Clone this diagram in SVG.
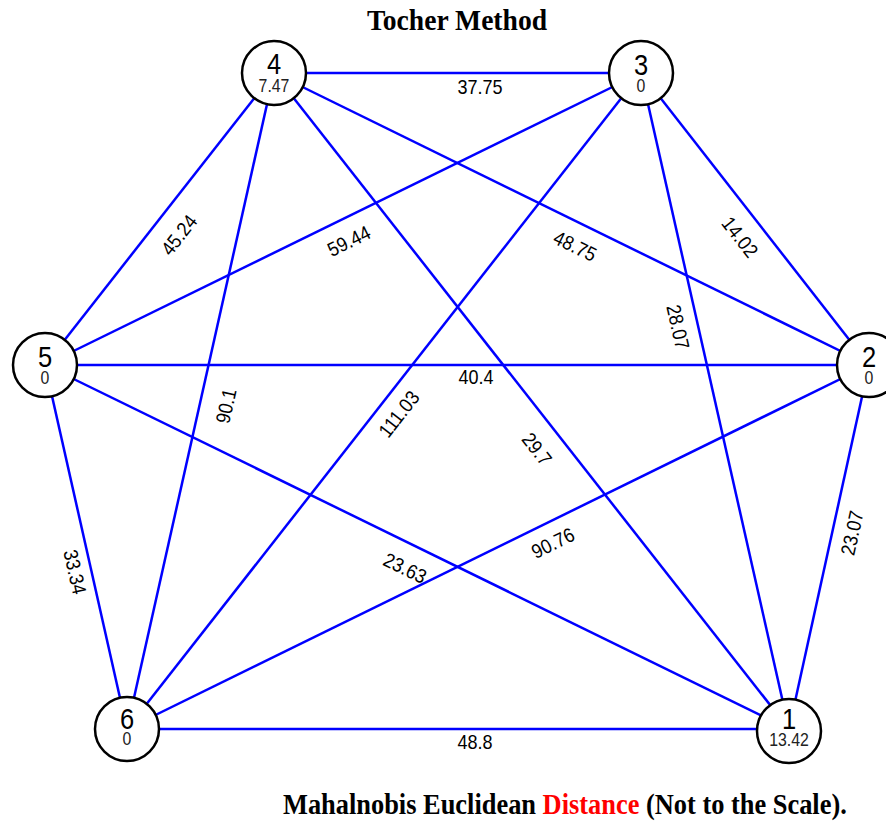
<svg xmlns="http://www.w3.org/2000/svg" width="886" height="825" viewBox="0 0 886 825">
<style>
.e{stroke:#0000ff;stroke-width:2.5;fill:none}
.n{fill:#fff;stroke:#000;stroke-width:2.5}
.num{font-family:"Liberation Sans",Arial,sans-serif;font-size:29px;fill:#000;text-anchor:middle}
.sub{font-family:"Liberation Sans",Arial,sans-serif;font-size:18px;fill:#222;text-anchor:middle}
.lbl{font-family:"Liberation Sans",Arial,sans-serif;font-size:20px;fill:#000;text-anchor:middle}
.ttl{font-family:"Liberation Serif","Times New Roman",serif;font-weight:bold;font-size:30px;fill:#000}
</style>
<rect width="886" height="825" fill="#fff"/>
<text class="ttl" transform="translate(457,30) scale(0.92,1)" text-anchor="middle">Tocher Method</text>
<g id="connectors">
<line class="e" x1="274" y1="73" x2="641" y2="73"/>
<line class="e" x1="641" y1="73" x2="869" y2="365"/>
<line class="e" x1="274" y1="73" x2="869" y2="365"/>
<line class="e" x1="45" y1="365" x2="641" y2="73"/>
<line class="e" x1="274" y1="73" x2="45" y2="365"/>
<line class="e" x1="641" y1="73" x2="789" y2="729"/>
<line class="e" x1="45" y1="365" x2="869" y2="365"/>
<line class="e" x1="274" y1="73" x2="127" y2="729"/>
<line class="e" x1="641" y1="73" x2="127" y2="729"/>
<line class="e" x1="274" y1="73" x2="789" y2="729"/>
<line class="e" x1="869" y1="365" x2="789" y2="729"/>
<line class="e" x1="45" y1="365" x2="127" y2="729"/>
<line class="e" x1="45" y1="365" x2="789" y2="729"/>
<line class="e" x1="127" y1="729" x2="869" y2="365"/>
<line class="e" x1="127" y1="729" x2="789" y2="729"/>
<text class="lbl" transform="translate(480,87) scale(0.9,1)" dy="0.35em">37.75</text>
<text class="lbl" transform="translate(740,237) rotate(52) scale(0.9,1)" dy="0.35em">14.02</text>
<text class="lbl" transform="translate(575,246) rotate(26.1) scale(0.9,1)" dy="0.35em">48.75</text>
<text class="lbl" transform="translate(349,241) rotate(-26.1) scale(0.9,1)" dy="0.35em">59.44</text>
<text class="lbl" transform="translate(179,235) rotate(-51.9) scale(0.9,1)" dy="0.35em">45.24</text>
<text class="lbl" transform="translate(678,327) rotate(77.3) scale(0.9,1)" dy="0.35em">28.07</text>
<text class="lbl" transform="translate(476,377) scale(0.9,1)" dy="0.35em">40.4</text>
<text class="lbl" transform="translate(226,406) rotate(-77.4) scale(0.9,1)" dy="0.35em">90.1</text>
<text class="lbl" transform="translate(399,414) rotate(-51.9) scale(0.9,1)" dy="0.35em">111.03</text>
<text class="lbl" transform="translate(537,449) rotate(51.9) scale(0.9,1)" dy="0.35em">29.7</text>
<text class="lbl" transform="translate(852,533) rotate(-77.6) scale(0.9,1)" dy="0.35em">23.07</text>
<text class="lbl" transform="translate(75,572) rotate(77.3) scale(0.9,1)" dy="0.35em">33.34</text>
<text class="lbl" transform="translate(405,568) rotate(26.1) scale(0.9,1)" dy="0.35em">23.63</text>
<text class="lbl" transform="translate(553,543) rotate(-26.1) scale(0.9,1)" dy="0.35em">90.76</text>
<text class="lbl" transform="translate(475,742) scale(0.9,1)" dy="0.35em">48.8</text>
</g>
<g id="node4"><circle class="n" cx="274" cy="73" r="32"/><text class="num" transform="translate(274,74) scale(0.88,1)">4</text><text class="sub" transform="translate(274,92) scale(0.88,1)">7.47</text></g>
<g id="node3"><circle class="n" cx="641" cy="73" r="32"/><text class="num" transform="translate(641,75) scale(0.88,1)">3</text><text class="sub" transform="translate(641,92) scale(0.88,1)">0</text></g>
<g id="node5"><circle class="n" cx="45" cy="365" r="32"/><text class="num" transform="translate(45,367) scale(0.88,1)">5</text><text class="sub" transform="translate(45,384) scale(0.88,1)">0</text></g>
<g id="node2"><circle class="n" cx="869" cy="365" r="32"/><text class="num" transform="translate(869,367) scale(0.88,1)">2</text><text class="sub" transform="translate(869,384) scale(0.88,1)">0</text></g>
<g id="node6"><circle class="n" cx="127" cy="729" r="32"/><text class="num" transform="translate(127,729) scale(0.88,1)">6</text><text class="sub" transform="translate(127,745) scale(0.88,1)">0</text></g>
<g id="node1"><circle class="n" cx="789" cy="731" r="32"/><text class="num" transform="translate(789,729) scale(0.88,1)">1</text><text class="sub" transform="translate(789,746) scale(0.88,1)">13.42</text></g>
<text class="ttl" transform="translate(283,814) scale(0.88,1)" x="0" y="0">Mahalnobis Euclidean <tspan fill="#ff0000">Distance</tspan> (Not to the Scale).</text>
</svg>
